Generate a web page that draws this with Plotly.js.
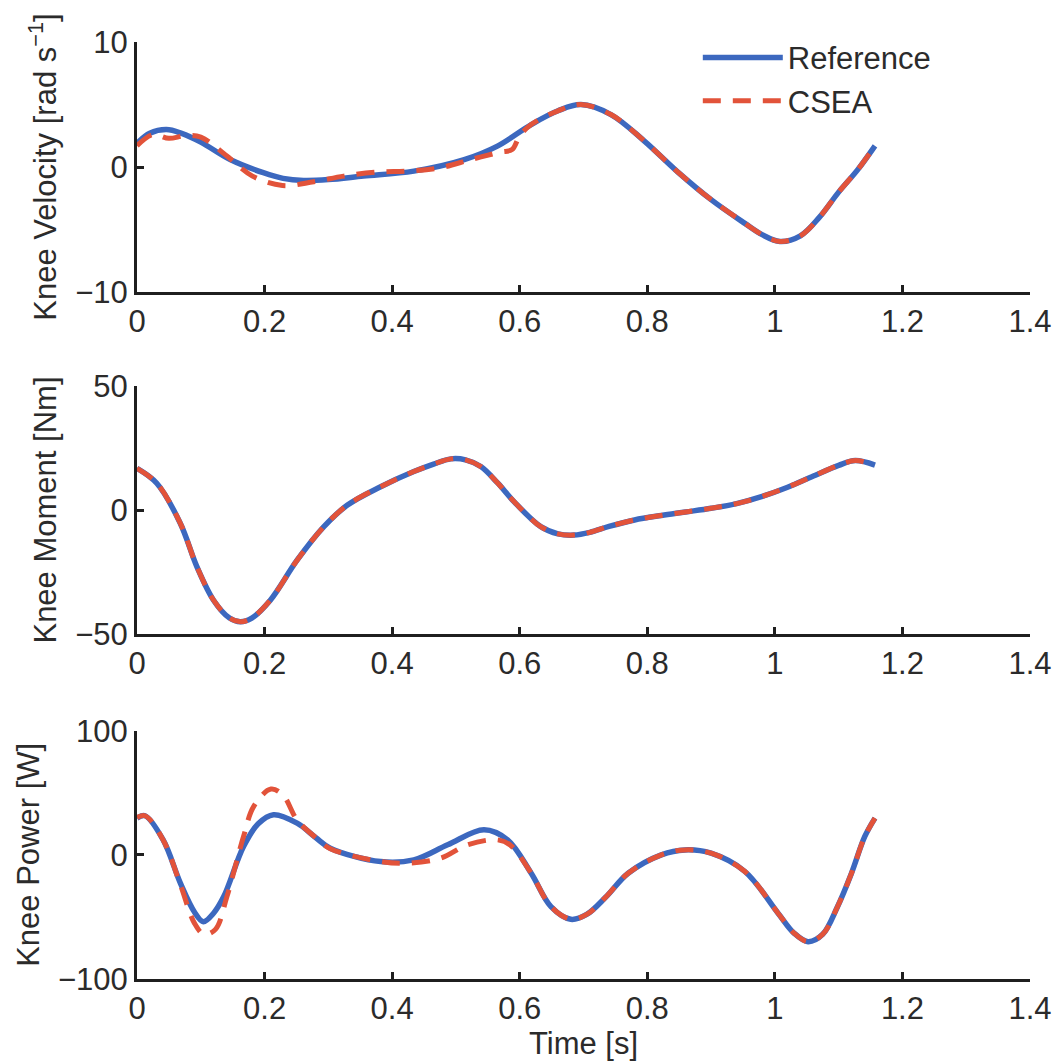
<!DOCTYPE html>
<html>
<head>
<meta charset="utf-8">
<script src="https://cdn.plot.ly/plotly-3.0.1.min.js"></script>
<style>html,body{margin:0;padding:0;background:#fff;}#chart{width:1064px;height:1063px;}</style>
</head>
<body>
<div id="chart"></div>
<script>
// ---- Knee velocity [rad s^-1] ----
const velRefT = [0, 0.02, 0.046, 0.07, 0.1, 0.146, 0.198, 0.229, 0.261, 0.3, 0.355, 0.434, 0.513, 0.565, 0.618, 0.66, 0.696, 0.743, 0.795, 0.848, 0.9, 0.953, 0.98, 1.008, 1.04, 1.07, 1.1, 1.13, 1.157];
const velRef  = [1.9, 2.7, 3.0, 2.7, 2.0, 0.6, -0.45, -0.9, -1.07, -1.0, -0.72, -0.32, 0.6, 1.68, 3.4, 4.5, 5.0, 4.2, 2.1, -0.4, -2.6, -4.5, -5.4, -5.95, -5.5, -4.0, -2.0, -0.2, 1.7];
const velCseaT = [0, 0.025, 0.05, 0.075, 0.1, 0.141, 0.181, 0.228, 0.277, 0.324, 0.377, 0.426, 0.476, 0.523, 0.57, 0.588, 0.6, 0.618, 0.66, 0.696, 0.743, 0.795, 0.848, 0.9, 0.953, 0.98, 1.008, 1.04, 1.07, 1.1, 1.13, 1.157];
const velCsea  = [1.7, 2.6, 2.3, 2.5, 2.4, 0.88, -0.72, -1.47, -1.17, -0.72, -0.4, -0.32, -0.05, 0.6, 1.2, 1.4, 2.5, 3.4, 4.5, 5.0, 4.2, 2.1, -0.4, -2.6, -4.5, -5.4, -5.95, -5.5, -4.0, -2.0, -0.2, 1.7];

// ---- Knee moment [Nm] ----
const momT = [0, 0.031, 0.068, 0.094, 0.12, 0.145, 0.162, 0.18, 0.209, 0.251, 0.293, 0.33, 0.382, 0.434, 0.465, 0.492, 0.515, 0.539, 0.565, 0.591, 0.633, 0.66, 0.685, 0.71, 0.74, 0.78, 0.822, 0.86, 0.9, 0.94, 0.979, 1.02, 1.058, 1.1, 1.126, 1.157];
const momRef = [16.8, 10.8, -5.4, -22.9, -36.3, -43.5, -45, -43.5, -36.3, -20.2, -6.7, 2.0, 9.4, 15.5, 18.5, 20.6, 20.2, 17.5, 11.0, 3.4, -6.7, -9.6, -10.1, -9.0, -6.6, -4.0, -2.2, -0.8, 0.7, 2.6, 5.4, 9.2, 13.4, 18.0, 19.9, 18.1];
const momCsea = [16.8, 10.8, -5.4, -22.9, -36.3, -43.5, -45, -43.5, -36.3, -20.2, -6.7, 2.0, 9.4, 15.5, 18.5, 20.6, 20.2, 17.5, 11.0, 3.4, -6.7, -9.6, -10.1, -9.0, -6.6, -4.0, -2.2, -0.8, 0.7, 2.6, 5.4, 9.2, 13.4, 18.0, 19.9, 18.1];

// ---- Knee power [W] ----
const powRefT = [0, 0.0126, 0.041, 0.068, 0.09, 0.104, 0.12, 0.136, 0.167, 0.19, 0.214, 0.251, 0.28, 0.303, 0.382, 0.434, 0.487, 0.544, 0.581, 0.618, 0.649, 0.68, 0.705, 0.735, 0.77, 0.822, 0.859, 0.9, 0.953, 1.005, 1.03, 1.052, 1.075, 1.098, 1.12, 1.141, 1.157];
const powRef  = [29.6, 31.5, 12, -22.8, -46, -53.8, -47, -33.6, 6.7, 25, 32.3, 25.5, 14, 5.4, -5.4, -4.0, 8.1, 20.2, 12.1, -14.8, -41.7, -51.9, -48, -34, -14.8, 0, 4.0, 1.3, -13.4, -47, -63, -69.9, -64, -42, -15, 14.8, 29.6];
const powCseaT = [0, 0.0126, 0.041, 0.068, 0.09, 0.105, 0.123, 0.141, 0.167, 0.183, 0.21, 0.229, 0.251, 0.28, 0.303, 0.382, 0.424, 0.476, 0.518, 0.565, 0.585, 0.618, 0.649, 0.68, 0.705, 0.735, 0.77, 0.822, 0.859, 0.9, 0.953, 1.005, 1.03, 1.052, 1.075, 1.098, 1.12, 1.141, 1.157];
const powCsea  = [30, 31.5, 12, -24, -55, -64, -60, -33.6, 14.8, 39, 53, 48, 28, 14, 5, -5.4, -6.7, -2.7, 8.1, 12.1, 8, -14.8, -41.7, -51.9, -48, -34, -14.8, 0, 4.0, 1.3, -13.4, -47, -63, -69.9, -64, -42, -15, 14.8, 29.6];

const seriesNames = ["Reference", "CSEA"];
const yTitles = ["Knee Velocity [rad s<sup>\u22121</sup>]", "Knee Moment [Nm]", "Knee Power [W]"];
const xTitle = "Time [s]";

const BLUE = "#3c68bf", RED = "#e2533a";
const FONT = "Liberation Sans, Arial, Helvetica, sans-serif";
const TXT = "#2b2b2b", AX = "#1f1f1f";
const FS = 31;

function refTrace(x, y, xa, ya, show) {
  return {x, y, xaxis: xa, yaxis: ya, type: "scatter", mode: "lines", name: seriesNames[0],
    showlegend: show, legendgroup: "r",
    line: {color: BLUE, width: 5.5, shape: "spline", smoothing: 1}};
}
function cseaTrace(x, y, xa, ya, show) {
  return {x, y, xaxis: xa, yaxis: ya, type: "scatter", mode: "lines", name: seriesNames[1],
    showlegend: show, legendgroup: "c",
    line: {color: RED, width: 5, dash: "18px,12px", shape: "spline", smoothing: 1}};
}

const data = [
  refTrace(velRefT, velRef, "x", "y", true),
  cseaTrace(velCseaT, velCsea, "x", "y", true),
  refTrace(momT, momRef, "x2", "y2", false),
  cseaTrace(momT, momCsea, "x2", "y2", false),
  refTrace(powRefT, powRef, "x3", "y3", false),
  cseaTrace(powCseaT, powCsea, "x3", "y3", false)
];

function xax(anchor, withTitle) {
  const a = {
    anchor, range: [0, 1.4], tickmode: "array", tickvals: [0, 0.2, 0.4, 0.6, 0.8, 1, 1.2, 1.4],
    ticktext: ["0", "0.2", "0.4", "0.6", "0.8", "1", "1.2", "1.4"],
    showline: true, linewidth: 3, linecolor: AX, ticks: "inside", ticklen: 7, tickwidth: 3, tickcolor: AX,
    showgrid: false, zeroline: false, tickfont: {family: FONT, size: FS, color: TXT}, fixedrange: true,
    automargin: false
  };
  if (withTitle) a.title = {text: xTitle, font: {family: FONT, size: FS, color: TXT}, standoff: 2};
  return a;
}
function yax(anchor, dom, rng, vals, title) {
  return {
    anchor, domain: dom, range: rng, tickmode: "array", tickvals: vals,
    showline: true, linewidth: 3, linecolor: AX, ticks: "inside", ticklen: 7, tickwidth: 3, tickcolor: AX,
    showgrid: false, zeroline: false, tickfont: {family: FONT, size: FS, color: TXT}, fixedrange: true,
    title: {text: title, font: {family: FONT, size: FS, color: TXT}, standoff: 10}, automargin: false
  };
}

const layout = {
  width: 1064, height: 1063,
  margin: {l: 137, r: 34, t: 42, b: 84},
  paper_bgcolor: "#fff", plot_bgcolor: "#fff",
  font: {family: FONT, color: TXT},
  showlegend: true,
  legend: {x: 0.628, y: 1.012, xanchor: "left", yanchor: "top", bgcolor: "rgba(0,0,0,0)",
    font: {family: FONT, size: FS, color: TXT}, itemwidth: 80, tracegroupgap: 0},
  xaxis: xax("y", false),
  xaxis2: xax("y2", false),
  xaxis3: xax("y3", true),
  yaxis: yax("x", [0.733, 1.0], [-10, 10], [-10, 0, 10], yTitles[0]),
  yaxis2: yax("x2", [0.368, 0.633], [-50, 50], [-50, 0, 50], yTitles[1]),
  yaxis3: yax("x3", [0, 0.265], [-100, 100], [-100, 0, 100], yTitles[2])
};

Plotly.newPlot("chart", data, layout, {displayModeBar: false, staticPlot: true});
</script>
</body>
</html>
